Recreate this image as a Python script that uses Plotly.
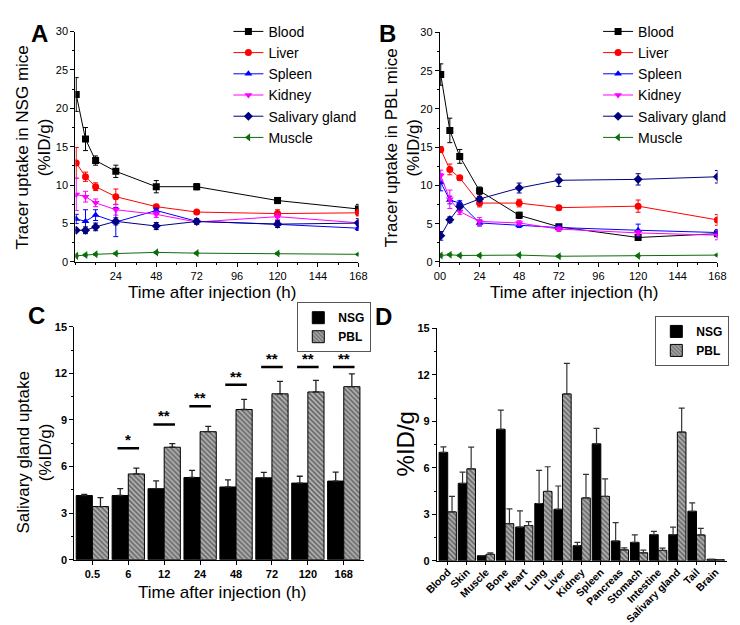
import plotly.graph_objects as go

FONT = "Liberation Sans, Arial, sans-serif"

# ---------------- data ----------------
times = [0.5, 6, 12, 24, 48, 72, 120, 168]
series_names = ["Blood", "Liver", "Spleen", "Kidney", "Salivary gland", "Muscle"]

# Panel A: NSG mice
nsg_blood = [21.8, 16.0, 13.2, 11.8, 9.8, 9.8, 8.0, 6.9]
nsg_blood_err = [2.2, 1.5, 0.6, 0.8, 0.8, 0.4, 0.4, 0.6]
nsg_liver = [12.9, 11.1, 9.8, 8.5, 7.2, 6.5, 6.3, 6.4]
nsg_liver_err = [2.0, 0.6, 0.5, 1.0, 0.3, 0.2, 0.5, 0.4]
nsg_spleen = [5.6, 5.3, 6.1, 5.2, 6.7, 5.3, 4.9, 4.4]
nsg_spleen_err = [0.6, 1.5, 0.7, 1.9, 0.3, 0.3, 0.4, 0.3]
nsg_kidney = [8.8, 8.5, 7.7, 6.8, 6.2, 5.2, 5.9, 5.1]
nsg_kidney_err = [2.1, 0.7, 0.5, 0.7, 0.4, 0.3, 0.4, 0.3]
nsg_saliv = [4.13, 4.13, 4.57, 5.29, 4.68, 5.27, 4.93, 5.06]
nsg_saliv_err = [0.07, 0.44, 0.5, 0.46, 0.46, 0.35, 0.44, 0.58]
nsg_muscle = [0.8, 0.9, 1.0, 1.1, 1.25, 1.15, 1.1, 1.0]
nsg_muscle_err = [0.1, 0.1, 0.1, 0.1, 0.1, 0.1, 0.1, 0.1]

# Panel B: PBL mice
pbl_blood = [24.5, 17.2, 13.8, 9.3, 6.1, 4.6, 3.2, 3.7]
pbl_blood_err = [1.4, 1.6, 0.9, 0.5, 0.4, 0.3, 0.3, 0.3]
pbl_liver = [14.7, 12.1, 11.0, 7.7, 7.7, 7.1, 7.3, 5.5]
pbl_liver_err = [0.4, 0.7, 0.3, 0.5, 0.5, 0.3, 0.8, 0.7]
pbl_spleen = [10.4, 8.1, 7.7, 5.1, 4.8, 4.5, 4.15, 3.85]
pbl_spleen_err = [1.1, 0.5, 0.3, 0.4, 0.3, 0.3, 0.8, 0.4]
pbl_kidney = [11.3, 8.2, 6.6, 5.3, 5.1, 4.3, 3.8, 3.5]
pbl_kidney_err = [0.7, 1.2, 0.4, 0.5, 0.3, 0.3, 0.3, 0.6]
pbl_saliv = [3.42, 5.52, 7.24, 8.24, 9.67, 10.68, 10.8, 11.14]
pbl_saliv_err = [0.57, 0.38, 0.23, 0.34, 0.65, 0.8, 0.74, 0.82]
pbl_muscle = [0.85, 0.95, 0.85, 0.85, 0.9, 0.75, 0.8, 0.9]
pbl_muscle_err = [0.1, 0.1, 0.1, 0.1, 0.1, 0.1, 0.1, 0.1]

# Panel C: salivary gland uptake bars
time_labels = ["0.5", "6", "12", "24", "48", "72", "120", "168"]
sig_levels = [None, 7.17, 8.71, 9.88, 11.27, 12.4, 12.4, 12.4]
sig_marks = [None, "*", "**", "**", "**", "**", "**", "**"]

# Panel D: biodistribution
organs = ["Blood", "Skin", "Muscle", "Bone", "Heart", "Lung", "Liver", "Kidney",
          "Spleen", "Pancreas", "Stomach", "Intestine", "Salivary gland", "Tail", "Brain"]
bio_nsg = [7.0, 5.0, 0.33, 8.49, 2.18, 3.7, 3.33, 0.98, 7.55, 1.28, 1.19, 1.69, 1.69, 3.2, 0.1]
bio_nsg_err = [0.36, 0.73, 0.0, 1.24, 1.04, 2.14, 1.5, 0.21, 1.0, 1.19, 0.48, 0.21, 0.49, 0.54, 0.0]
bio_pbl = [3.16, 5.94, 0.42, 2.4, 2.28, 4.48, 10.77, 4.06, 4.16, 0.71, 0.52, 0.67, 8.31, 1.67, 0.08]
bio_pbl_err = [1.0, 1.4, 0.1, 0.95, 0.25, 1.59, 1.97, 1.52, 1.13, 0.13, 0.17, 0.15, 1.55, 0.42, 0.0]

# ---------------- styles ----------------
colors = ["#000000", "#ff0000", "#0000ff", "#ff00ff", "#000080", "#0a6e0a"]
symbols = ["square", "circle", "triangle-up", "triangle-down", "diamond", "triangle-left"]

fig = go.Figure()

panelA = [(nsg_blood, nsg_blood_err), (nsg_liver, nsg_liver_err), (nsg_spleen, nsg_spleen_err),
          (nsg_kidney, nsg_kidney_err), (nsg_saliv, nsg_saliv_err), (nsg_muscle, nsg_muscle_err)]
panelB = [(pbl_blood, pbl_blood_err), (pbl_liver, pbl_liver_err), (pbl_spleen, pbl_spleen_err),
          (pbl_kidney, pbl_kidney_err), (pbl_saliv, pbl_saliv_err), (pbl_muscle, pbl_muscle_err)]

for panel, xa, ya, lg in [(panelA, "x", "y", "legend"), (panelB, "x2", "y2", "legend2")]:
    for i, (vals, errs) in enumerate(panel):
        fig.add_trace(go.Scatter(
            x=times, y=vals, name=series_names[i], mode="lines+markers",
            xaxis=xa, yaxis=ya, legend=lg,
            line=dict(color=colors[i], width=1),
            marker=dict(symbol=symbols[i], size=7, color=colors[i]),
            error_y=dict(type="data", array=errs, visible=True, color=colors[i],
                         thickness=1, width=2.5),
        ))

# bar styles
nsg_marker = dict(color="black", line=dict(color="black", width=1))
pbl_marker = dict(color="#a8a8a8", line=dict(color="black", width=1),
                  pattern=dict(shape="\\", fgcolor="#1a1a1a", bgcolor="#b4b4b4",
                               size=3.5, solidity=0.5))

fig.add_trace(go.Bar(x=time_labels, y=nsg_saliv, name="NSG", xaxis="x3", yaxis="y3",
                     legend="legend3", marker=nsg_marker, offsetgroup="a",
                     error_y=dict(type="data", array=nsg_saliv_err, arrayminus=[0] * 8,
                                  symmetric=False, color="#222", thickness=1.3, width=3)))
fig.add_trace(go.Bar(x=time_labels, y=pbl_saliv, name="PBL", xaxis="x3", yaxis="y3",
                     legend="legend3", marker=pbl_marker, offsetgroup="b",
                     error_y=dict(type="data", array=pbl_saliv_err, arrayminus=[0] * 8,
                                  symmetric=False, color="#222", thickness=1.3, width=3)))

fig.add_trace(go.Bar(x=organs, y=bio_nsg, name="NSG", xaxis="x4", yaxis="y4",
                     legend="legend4", marker=nsg_marker, offsetgroup="a",
                     error_y=dict(type="data", array=bio_nsg_err, arrayminus=[0] * 15,
                                  symmetric=False, color="#333", thickness=1.2, width=3)))
fig.add_trace(go.Bar(x=organs, y=bio_pbl, name="PBL", xaxis="x4", yaxis="y4",
                     legend="legend4", marker=pbl_marker, offsetgroup="b",
                     error_y=dict(type="data", array=bio_pbl_err, arrayminus=[0] * 15,
                                  symmetric=False, color="#333", thickness=1.2, width=3)))

# significance marks in panel C
shapes = []
annotations = []
for i, (lvl, mk) in enumerate(zip(sig_levels, sig_marks)):
    if lvl is None:
        continue
    shapes.append(dict(type="line", xref="x3", yref="y3", x0=i - 0.3, x1=i + 0.3,
                       y0=lvl, y1=lvl, line=dict(color="black", width=2.5)))
    annotations.append(dict(xref="x3", yref="y3", x=i, y=lvl, text="<b>%s</b>" % mk,
                            showarrow=False, yanchor="bottom", yshift=-2,
                            font=dict(family=FONT, size=15, color="black")))

W, H = 740, 625


def px(x):
    return x / W


def py(y):
    return 1 - y / H


def axis_common(**kw):
    d = dict(showline=True, linecolor="black", linewidth=1.3, ticks="outside",
             ticklen=4, tickwidth=1.2, tickcolor="black", showgrid=False, zeroline=False,
             mirror=False, tickfont=dict(family=FONT, size=11, color="black"))
    d.update(kw)
    return d


minor_t = dict(ticks="outside", ticklen=2, tickwidth=1, tickcolor="black", showgrid=False)

layout = dict(
    width=W, height=H, margin=dict(l=0, r=0, t=0, b=0),
    paper_bgcolor="white", plot_bgcolor="white",
    font=dict(family=FONT, color="black"),
    barmode="group", bargap=0.1, bargroupgap=0,
    xaxis=axis_common(domain=[px(64.3), px(356)], range=[0, 168],
                      tickvals=[24, 48, 72, 96, 120, 144, 168], anchor="y",
                      minor=dict(dtick=12, tick0=0, **minor_t)),
    yaxis=axis_common(domain=[py(261), py(26)], range=[0, 30], dtick=5, anchor="x",
                      minor=dict(dtick=2.5, **minor_t)),
    xaxis2=axis_common(domain=[px(440), px(726)], range=[0, 168],
                       tickvals=[0, 24, 48, 72, 96, 120, 144, 168],
                       ticktext=["00", "24", "48", "72", "96", "120", "144", "168"],
                       anchor="y2", minor=dict(dtick=12, tick0=0, **minor_t)),
    yaxis2=axis_common(domain=[py(261), py(27)], range=[0, 30], dtick=5, anchor="x2",
                       minor=dict(dtick=2.5, **minor_t)),
    xaxis3=axis_common(domain=[px(63.3), px(362)], type="category", range=[-0.5, 7.57],
                       anchor="y3",
                       tickfont=dict(family=FONT, size=11, color="black", weight="bold")),
    yaxis3=axis_common(domain=[py(564.5), py(327)], range=[0, 15], dtick=3, anchor="x3",
                       tickfont=dict(family=FONT, size=11, color="black", weight="bold"),
                       minor=dict(dtick=1.5, **minor_t)),
    xaxis4=axis_common(domain=[px(437), px(736)], type="category", range=[-0.56, 14.6],
                       anchor="y4", tickangle=-45, ticklen=3, ticklabelstandoff=-3,
                       tickfont=dict(family=FONT, size=10.5, color="black", weight="bold")),
    yaxis4=axis_common(domain=[py(565.7), py(328.7)], range=[0, 15], dtick=3, anchor="x4",
                       tickfont=dict(family=FONT, size=11, color="black", weight="bold"),
                       minor=dict(dtick=1.5, **minor_t)),
    legend=dict(x=px(222), y=py(10), xanchor="left", yanchor="top", bgcolor="rgba(0,0,0,0)",
                font=dict(family=FONT, size=14), itemwidth=30, tracegroupgap=0),
    legend2=dict(x=px(603), y=py(10), xanchor="left", yanchor="top", bgcolor="rgba(0,0,0,0)",
                 font=dict(family=FONT, size=14), itemwidth=30, tracegroupgap=0),
    legend3=dict(x=px(293), y=py(302), xanchor="left", yanchor="top", bgcolor="white",
                 bordercolor="#555", borderwidth=1,
                 font=dict(family=FONT, size=12, weight="bold"), itemwidth=30),
    legend4=dict(x=px(662), y=py(316), xanchor="left", yanchor="top", bgcolor="white",
                 bordercolor="#555", borderwidth=1,
                 font=dict(family=FONT, size=12, weight="bold"), itemwidth=30),
    showlegend=True,
)

# panel letters and axis titles
letters = [("A", 16, 12), ("B", 386, 12), ("C", 13, 316), ("D", 382, 317)]
for t, x, y in letters:
    annotations.append(dict(xref="paper", yref="paper", x=px(x), y=py(y), text="<b>%s</b>" % t,
                            showarrow=False, font=dict(family=FONT, size=24, color="black")))

titles = [
    ("Tracer uptake in NSG mice<br>(%ID/g)", 21, 144, -90, 17),
    ("Tracer uptake in PBL mice<br>(%ID/g)", 401, 145, -90, 17),
    ("Salivary gland uptake<br>(%ID/g)", 22, 455, -90, 17),
    ("%ID/g", 404, 446, -90, 24),
    ("Time after injection (h)", 205, 292, 0, 17),
    ("Time after injection (h)", 578, 292, 0, 17),
    ("Time after injection (h)", 215, 598, 0, 17),
]
for t, x, y, ang, fs in titles:
    annotations.append(dict(xref="paper", yref="paper", x=px(x), y=py(y), text=t,
                            textangle=ang, showarrow=False, xanchor="center", yanchor="middle",
                            font=dict(family=FONT, size=fs, color="black")))

layout["shapes"] = shapes
layout["annotations"] = annotations
fig.update_layout(**layout)

fig.write_html("out.html", config={"displayModeBar": False},
               post_script="document.body.style.margin='0';document.body.style.overflow='hidden';")
